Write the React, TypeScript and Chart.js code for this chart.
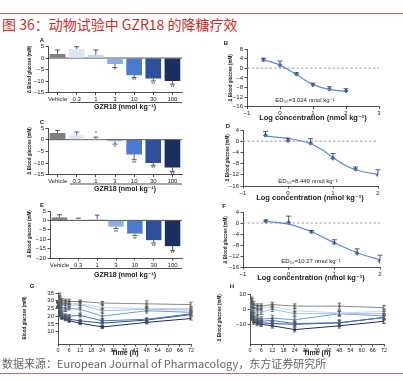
import React, { useEffect, useRef } from "react";
import { Chart, registerables } from "chart.js";
Chart.register(...registerables);

const FONT = "'Liberation Sans', 'DejaVu Sans', Arial, sans-serif";
const INK = "#222";

// ---- data ----
const doseLabels = ["Vehicle", "0.3", "1", "3", "10", "30", "100"];
const doseColors = ["#808080", "#dce7f5", "#c4d6ef", "#8eaee0", "#4a7bcf", "#2c5099", "#1d2f5e"];
const lineColors = ["#8a8a8a", "#c3d5ef", "#a2bde6", "#729bdb", "#4373c8", "#2b4e94", "#1d2e5b"];

const aValues = [1.7, 3.9, 1.3, -2.6, -7.4, -8.8, -9.9];
const aErrors = [1.8, 1.0, 2.2, 1.5, 1.0, 1.1, 1.4];
const aSig = ["", "", "", "*", "**", "**", "**"];

const cValues = [2.9, 1.9, 0.4, -0.7, -6.4, -10.0, -11.9];
const cErrors = [1.1, 1.4, 0.7, 1.2, 2.2, 1.0, 1.7];
const cSig = ["", "", "*", "*", "**", "**", "**"];

const eValues = [1.6, 0.7, 0.7, -3.3, -7.0, -10.5, -13.7];
const eErrors = [1.4, 0.5, 2.1, 1.1, 1.1, 1.5, 2.3];
const eSig = ["", "", "", "**", "**", "**", "**"];

const logDose = [-0.5, 0, 0.5, 1, 1.5, 2];
const bPoints = [3.4, 1.2, -2.5, -7.0, -8.7, -9.5];
const bErrors = [0.8, 1.8, 0.6, 0.8, 1.0, 1.0];
const bCurveX = [-0.5, 0, 0.25, 0.5, 0.75, 1, 1.5, 2];
const bCurveY = [3.5, 1.3, -0.6, -2.6, -4.9, -6.8, -8.8, -9.6];

const dPoints = [2.1, 0.2, -0.7, -6.1, -10.0, -12.0];
const dErrors = [1.4, 0.9, 1.6, 1.7, 0.8, 1.8];
const dCurveX = [-0.5, 0, 0.5, 0.75, 1, 1.25, 1.5, 2];
const dCurveY = [1.8, 1.0, -0.9, -3.0, -5.8, -8.4, -10.2, -11.9];

const fPoints = [0.6, 0.1, -3.3, -7.3, -11.0, -13.9];
const fErrors = [0.5, 2.4, 0.6, 1.2, 1.6, 2.2];
const fCurveX = [-0.5, 0, 0.5, 1, 1.5, 2];
const fCurveY = [0.6, -0.4, -3.2, -7.2, -10.8, -13.4];

const timeH = [0, 1, 2, 4, 6, 12, 24, 48, 72];
const gSeries = [
  [28, 33, 30, 29.5, 29.5, 29.5, 28.5, 28, 27.5],
  [28, 31, 29, 28.5, 28.5, 28, 25.5, 25, 25],
  [27.5, 29, 27, 27, 27, 27.5, 23.5, 24.5, 24],
  [27.5, 27, 24, 24, 25, 24.5, 20, 23.5, 22.5],
  [27, 24, 21.5, 20.5, 20, 20.5, 17, 18, 21.5],
  [27, 22, 20, 19, 18, 17, 15.5, 17.5, 21],
  [27, 21, 19, 18, 17, 15.5, 13, 16, 18.5],
];
const gErrors = [
  [1.5, 2, 1.5, 1.5, 1.5, 1, 1, 2, 1.5],
  [1.5, 2, 1.5, 1.5, 1, 1, 1.5, 1.5, 1],
  [1.5, 2, 1.5, 1.5, 1, 2, 1.5, 1, 1],
  [1.5, 2, 1.5, 1, 1, 2.5, 2, 1.5, 1],
  [1.5, 2, 1.5, 1, 1, 1, 1.5, 1, 1],
  [1.5, 1.5, 1, 1, 1, 1, 1.5, 1, 1],
  [1.5, 1.5, 1, 1, 1, 1, 1, 1, 1],
];
const hSeries = [
  [0, 6, 3, 2, 2, 3, 2, 2, 1],
  [0, 5, 2, 1, 1, 1.5, -1, -2.5, -1.5],
  [0, 3, -1, -2, -2, 0, -3, -3, -3],
  [0, 0, -4, -5.5, -6.5, -6, -7, -3, -4.5],
  [0, -3, -6.5, -7.5, -8, -7.5, -9.5, -9, -5.5],
  [0, -5, -7.5, -8.5, -9, -9.5, -10, -9, -5.5],
  [0, -6, -8.5, -9.5, -10, -11, -13.5, -11, -8],
];
const hErrors = [
  [0, 2, 2, 1.5, 1.5, 1.5, 1.5, 2, 1.5],
  [0, 2, 1.5, 1.5, 1.5, 1.5, 1.5, 1.5, 1.5],
  [0, 2, 1.5, 1.5, 1.5, 1.5, 1.5, 1.5, 1.5],
  [0, 2, 1.5, 1.5, 1.5, 2, 2, 1.5, 1.5],
  [0, 2, 1.5, 1.5, 1.5, 1.5, 1.5, 2, 1.5],
  [0, 1.5, 1.5, 1.5, 1.5, 1.5, 1.5, 1.5, 1.5],
  [0, 1.5, 1.5, 1.5, 1.5, 1.5, 1.5, 1.5, 1.5],
];

// ---- plugin ----
const deco: any = {
  id: "deco",
  beforeDatasetsDraw(chart: any, _a: any, o: any) {
    if (!o || !o.zero) return;
    const ys = chart.scales.y;
    const ca = chart.chartArea;
    const py = ys.getPixelForValue(0);
    const ctx = chart.ctx;
    ctx.save();
    ctx.strokeStyle = o.zero.color;
    ctx.lineWidth = o.zero.w || 0.8;
    if (o.zero.dash) ctx.setLineDash(o.zero.dash);
    ctx.beginPath();
    ctx.moveTo(ca.left, py);
    ctx.lineTo(ca.right, py);
    ctx.stroke();
    ctx.restore();
  },
  afterDatasetsDraw(chart: any) {
    const ctx = chart.ctx;
    const ys = chart.scales.y;
    chart.data.datasets.forEach((ds: any, di: number) => {
      if (!ds.errs) return;
      const meta = chart.getDatasetMeta(di);
      ctx.save();
      ctx.strokeStyle = ds.errColor || "#333";
      ctx.lineWidth = 0.8;
      const cap = ds.cap || 2.5;
      meta.data.forEach((el: any, i: number) => {
        const raw = ds.data[i];
        const v = typeof raw === "number" ? raw : raw.y;
        const e = ds.errs[i];
        if (!e) return;
        const x = el.x;
        const p0 = ys.getPixelForValue(v);
        const dirs = ds.errMode === "both" ? [1, -1] : ds.errMode === "up" ? [1] : [v >= 0 ? 1 : -1];
        let lastEnd = p0;
        dirs.forEach((d: number) => {
          const p1 = ys.getPixelForValue(v + d * e);
          lastEnd = p1;
          ctx.beginPath();
          ctx.moveTo(x, p0);
          ctx.lineTo(x, p1);
          ctx.moveTo(x - cap, p1);
          ctx.lineTo(x + cap, p1);
          ctx.stroke();
        });
        if (ds.sig && ds.sig[i]) {
          ctx.fillStyle = "#333";
          ctx.font = `5px ${FONT}`;
          ctx.textAlign = "center";
          if (v < 0) {
            ctx.textBaseline = "top";
            ctx.fillText(ds.sig[i], x, lastEnd + 1);
          } else {
            ctx.textBaseline = "bottom";
            ctx.fillText(ds.sig[i], x, lastEnd - 1);
          }
        }
      });
      ctx.restore();
    });
  },
  afterDraw(chart: any, _a: any, o: any) {
    if (!o) return;
    const ctx = chart.ctx;
    ctx.save();
    (o.lines || []).forEach((l: any) => {
      ctx.strokeStyle = l.c || INK;
      ctx.lineWidth = l.w || 0.8;
      ctx.beginPath();
      ctx.moveTo(l.x1, l.y1);
      ctx.lineTo(l.x2, l.y2);
      ctx.stroke();
    });
    (o.texts || []).forEach((t: any) => {
      ctx.save();
      ctx.fillStyle = t.c || INK;
      ctx.font = `${t.b ? "bold " : ""}${t.s || 6}px ${FONT}`;
      ctx.textAlign = t.a || "center";
      ctx.textBaseline = "middle";
      ctx.translate(t.x, t.y);
      if (t.r) ctx.rotate(-Math.PI / 2);
      ctx.fillText(t.t, 0, 0);
      ctx.restore();
    });
    ctx.restore();
  },
};

// ---- helpers ----
const minus = (v: any) => String(v).replace("-", "\u2212");
const gridOpts = { drawOnChartArea: false, drawTicks: true, tickLength: 2.5, color: INK, lineWidth: 0.8 };
const borderOpts = { display: true, color: INK, width: 0.8 };
const tickFont = { family: FONT, size: 6 };

type Area = { l: number; r: number; t: number; b: number };

function baseOptions(area: Area, deco: any) {
  return {
    responsive: false,
    animation: false,
    events: [],
    layout: { padding: { left: area.l - 20, right: 403 - area.r, top: area.t, bottom: 380 - area.b - 15 } },
    plugins: { legend: { display: false }, tooltip: { enabled: false }, title: { display: false }, deco },
  };
}

function yAxis(min: number, max: number, step: number, keep?: (v: number) => boolean) {
  return {
    type: "linear",
    min,
    max,
    grid: gridOpts,
    border: borderOpts,
    ticks: { stepSize: step, autoSkip: false, font: tickFont, color: INK, padding: 1.5, callback: (v: any) => minus(v) },
    afterBuildTicks: (s: any) => {
      if (keep) s.ticks = s.ticks.filter((t: any) => keep(t.value));
    },
    afterFit: (s: any) => {
      s.width = 20;
    },
  };
}

function barConfig(values: number[], errors: number[], sig: string[], area: Area, ymin: number, ymax: number, texts: any[], lines: any[]) {
  return {
    type: "bar",
    data: {
      labels: doseLabels,
      datasets: [
        {
          data: values,
          backgroundColor: doseColors,
          barPercentage: 0.82,
          categoryPercentage: 1,
          errs: errors,
          errMode: "away",
          sig,
        },
      ],
    },
    options: {
      ...baseOptions(area, { zero: { color: INK, w: 0.8 }, texts, lines }),
      scales: {
        x: {
          grid: { ...gridOpts, offset: false },
          border: borderOpts,
          ticks: { font: tickFont, color: INK, padding: 1, maxRotation: 0, autoSkip: false },
          afterFit: (s: any) => {
            s.height = 15;
          },
        },
        y: yAxis(ymin, ymax, 5),
      },
    },
    plugins: [deco],
  };
}

function doseConfig(points: number[], errors: number[], cx: number[], cy: number[], area: Area, xmax: number, ymax: number, texts: any[]) {
  return {
    type: "line",
    data: {
      datasets: [
        {
          data: cx.map((x, i) => ({ x, y: cy[i] })),
          borderColor: "#5b8bd6",
          borderWidth: 1.2,
          pointRadius: 0,
          cubicInterpolationMode: "monotone",
          fill: false,
        },
        {
          data: logDose.map((x, i) => ({ x, y: points[i] })),
          showLine: false,
          pointRadius: 2,
          pointStyle: "rectRot",
          backgroundColor: "#3a6cc4",
          borderColor: "#3a6cc4",
          errs: errors,
          errMode: "up",
          errColor: "#333",
          cap: 2.5,
        },
      ],
    },
    options: {
      ...baseOptions(area, { zero: { color: "#888", w: 0.8, dash: [2.5, 2] }, texts, lines: [] }),
      scales: {
        x: {
          type: "linear",
          min: -1,
          max: xmax,
          grid: gridOpts,
          border: borderOpts,
          ticks: { stepSize: 1, autoSkip: false, font: tickFont, color: INK, padding: 1, callback: (v: any) => minus(v) },
          afterFit: (s: any) => {
            s.height = 15;
          },
        },
        y: yAxis(-16, ymax, 4),
      },
    },
    plugins: [deco],
  };
}

function timeConfig(series: number[][], errs: number[][], area: Area, ymin: number, ymax: number, step: number, texts: any[]) {
  return {
    type: "line",
    data: {
      datasets: series.map((s, k) => ({
        data: timeH.map((t, i) => ({ x: t, y: s[i] })),
        borderColor: lineColors[k],
        backgroundColor: lineColors[k],
        borderWidth: 1,
        pointRadius: 1.2,
        tension: 0,
        errs: errs[k],
        errMode: "both",
        errColor: "#555",
        cap: 1.8,
      })),
    },
    options: {
      ...baseOptions(area, { texts, lines: [] }),
      scales: {
        x: {
          type: "linear",
          min: 0,
          max: 72,
          grid: gridOpts,
          border: borderOpts,
          ticks: { stepSize: 6, autoSkip: false, maxRotation: 0, font: { family: FONT, size: 5.5 }, color: INK, padding: 1 },
          afterFit: (s: any) => {
            s.height = 15;
          },
        },
        y: yAxis(ymin, ymax, step, (v) => v % step === 0),
      },
    },
    plugins: [deco],
  };
}

const YT = "\u0394 Blood glucose (mM)";
const GZ = "GZR18 (nmol kg\u207B\u00B9)";
const LC = "Log concentration (nmol kg\u207B\u00B9)";

const configs: any[] = [
  barConfig(aValues, aErrors, aSig, { l: 48, r: 182, t: 46.5, b: 92.7 }, -15, 5,
    [
      { t: "A", x: 42, y: 40, s: 6, b: true },
      { t: YT, x: 30, y: 69.5, s: 4.5, b: true, r: true },
      { t: GZ, x: 125, y: 107.5, s: 7, b: true },
    ],
    [{ x1: 70, y1: 102.5, x2: 182, y2: 102.5 }]),
  barConfig(cValues, cErrors, cSig, { l: 48, r: 182, t: 128, b: 174.7 }, -15, 5,
    [
      { t: "C", x: 42, y: 122, s: 6, b: true },
      { t: YT, x: 30, y: 151, s: 4.5, b: true, r: true },
      { t: GZ, x: 125, y: 189, s: 7, b: true },
    ],
    [{ x1: 70, y1: 184, x2: 182, y2: 184 }]),
  barConfig(eValues, eErrors, eSig, { l: 50, r: 182, t: 211, b: 258 }, -20, 5,
    [
      { t: "E", x: 42, y: 205, s: 6, b: true },
      { t: YT, x: 30, y: 234, s: 4.5, b: true, r: true },
      { t: GZ, x: 125, y: 275, s: 7, b: true },
    ],
    [{ x1: 70, y1: 268.5, x2: 182, y2: 268.5 }]),
  doseConfig(bPoints, bErrors, bCurveX, bCurveY, { l: 247, r: 379, t: 49, b: 106.7 }, 3, 8, [
    { t: "B", x: 226, y: 43, s: 6, b: true },
    { t: YT, x: 231, y: 78, s: 4.5, b: true, r: true },
    { t: LC, x: 313, y: 118, s: 7.5, b: true },
    { t: "ED\u2085\u2080=3.024 nmol kg\u207B\u00B9", x: 305, y: 100, s: 6 },
  ]),
  doseConfig(dPoints, dErrors, dCurveX, dCurveY, { l: 243, r: 378, t: 130, b: 186 }, 2, 4, [
    { t: "D", x: 228, y: 126, s: 6, b: true },
    { t: YT, x: 228, y: 158, s: 4.5, b: true, r: true },
    { t: LC, x: 310, y: 198, s: 7.5, b: true },
    { t: "ED\u2085\u2080=8.449 nmol kg\u207B\u00B9", x: 308, y: 181, s: 6 },
  ]),
  doseConfig(fPoints, fErrors, fCurveX, fCurveY, { l: 243, r: 380, t: 212, b: 267 }, 2, 4, [
    { t: "F", x: 224, y: 206, s: 6, b: true },
    { t: YT, x: 226, y: 240, s: 4.5, b: true, r: true },
    { t: LC, x: 311, y: 278, s: 7.5, b: true },
    { t: "ED\u2085\u2080=10.27 nmol kg\u207B\u00B9", x: 311, y: 261, s: 6 },
  ]),
  timeConfig(gSeries, gErrors, { l: 58, r: 191, t: 293, b: 344 }, 2, 35, 5, [
    { t: "G", x: 32, y: 286, s: 6, b: true },
    { t: "Blood glucose (mM)", x: 25, y: 318, s: 4.5, b: true, r: true },
    { t: "Time (h)", x: 125, y: 353, s: 7, b: true },
  ]),
  timeConfig(hSeries, hErrors, { l: 250, r: 384, t: 294, b: 344 }, -23, 10, 10, [
    { t: "H", x: 232, y: 286, s: 6, b: true },
    { t: YT, x: 220, y: 318, s: 4.5, b: true, r: true },
    { t: "Time (h)", x: 317, y: 353, s: 7, b: true },
  ]),
];

function Panel({ config }: { config: any }) {
  const ref = useRef<HTMLCanvasElement>(null);
  useEffect(() => {
    const c = new Chart(ref.current as HTMLCanvasElement, config);
    return () => c.destroy();
  }, [config]);
  return (
    <canvas
      ref={ref}
      width={403}
      height={380}
      style={{ position: "absolute", left: 0, top: 0, width: 403, height: 380 }}
    />
  );
}

export default function App() {
  return (
    <div style={{ position: "absolute", left: 0, top: 0, width: 403, height: 380, background: "#fff", overflow: "hidden" }}>
      <div style={{ position: "absolute", left: 0, top: 13, width: 403, height: 1, background: "#d9534f" }} />
      <div
        style={{
          position: "absolute",
          left: 2,
          top: 16.5,
          fontFamily: "'Noto Sans CJK SC', sans-serif",
          fontSize: 14,
          lineHeight: "14px",
          color: "#cc2a2a",
          whiteSpace: "nowrap",
        }}
      >
        图 36：动物试验中 GZR18 的降糖疗效
      </div>
      {configs.map((c, i) => (
        <Panel key={i} config={c} />
      ))}
      <div
        style={{
          position: "absolute",
          left: 2,
          top: 357.5,
          fontFamily: "'Noto Sans CJK SC', sans-serif",
          fontSize: 11,
          lineHeight: "11px",
          color: "#666",
          whiteSpace: "nowrap",
        }}
      >
        数据来源：European Journal of Pharmacology，东方证券研究所
      </div>
      <div style={{ position: "absolute", left: 0, top: 373, width: 403, height: 1, background: "#e06666" }} />
    </div>
  );
}
